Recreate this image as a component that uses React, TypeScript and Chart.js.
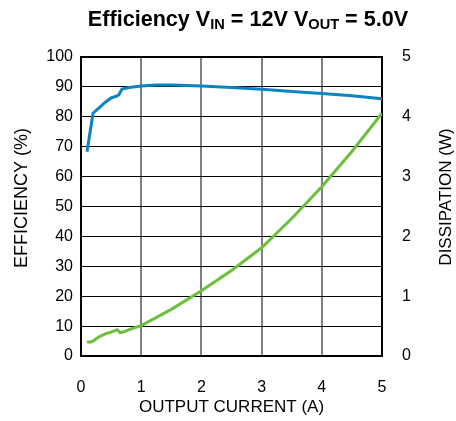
import React, { useEffect, useRef } from "react";
import { Chart, registerables } from "chart.js";

Chart.register(...registerables);

const effCurrent = [0.1, 0.2, 0.3, 0.4, 0.5, 0.6, 0.63, 0.68, 0.8, 1.0, 1.25, 1.5, 2.0, 2.5, 3.0, 3.5, 4.0, 4.5, 5.0];
const efficiency = [68.3, 81.2, 83.0, 84.8, 86.3, 87.0, 87.4, 89.3, 89.8, 90.3, 90.6, 90.6, 90.3, 89.8, 89.2, 88.5, 87.8, 87.0, 86.0];

const dissCurrent = [0.1, 0.15, 0.2, 0.3, 0.4, 0.5, 0.6, 0.65, 0.7, 0.8, 1.0, 1.5, 2.0, 2.5, 3.0, 3.5, 4.0, 4.5, 5.0];
const dissipation = [0.24, 0.23, 0.25, 0.32, 0.37, 0.4, 0.44, 0.39, 0.4, 0.44, 0.51, 0.78, 1.09, 1.43, 1.81, 2.3, 2.83, 3.42, 4.06];

const xTicks = [0, 1, 2, 3, 4, 5];
const effTicks = [0, 10, 20, 30, 40, 50, 60, 70, 80, 90, 100];
const dissTicks = [0, 1, 2, 3, 4, 5];

const titleParts: { text: string; sub: boolean }[] = [
  { text: "Efficiency V", sub: false },
  { text: "IN", sub: true },
  { text: " = 12V V", sub: false },
  { text: "OUT", sub: true },
  { text: " = 5.0V", sub: false },
];
const leftTitle = "EFFICIENCY (%)";
const rightTitle = "DISSIPATION (W)";
const xTitle = "OUTPUT CURRENT (A)";

const FONT = "'Liberation Sans', Arial, Helvetica, sans-serif";

const textPlugin = {
  id: "customText",
  afterDraw(chart: any) {
    const ctx = chart.ctx;
    ctx.save();
    ctx.fillStyle = "#000";
    ctx.textBaseline = "alphabetic";
    ctx.textAlign = "left";
    const mainFont = `bold 21.6px ${FONT}`;
    const subFont = `bold 14.6px ${FONT}`;
    let total = 0;
    for (const p of titleParts) {
      ctx.font = p.sub ? subFont : mainFont;
      total += ctx.measureText(p.text).width;
    }
    let x = 248 - total / 2;
    for (const p of titleParts) {
      ctx.font = p.sub ? subFont : mainFont;
      ctx.fillText(p.text, x, p.sub ? 28.5 : 25.5);
      x += ctx.measureText(p.text).width;
    }
    ctx.restore();

    const vTitle = (text: string, cx: number, cy: number, size: number) => {
      ctx.save();
      ctx.translate(cx, cy);
      ctx.rotate(-Math.PI / 2);
      ctx.font = `${size}px ${FONT}`;
      ctx.fillStyle = "#000";
      ctx.textAlign = "center";
      ctx.textBaseline = "middle";
      ctx.fillText(text, 0, 0);
      ctx.restore();
    };
    vTitle(leftTitle, 21.7, 198, 18);
    vTitle(rightTitle, 446.7, 197, 17);
  },
};

export default function App() {
  const ref = useRef<HTMLCanvasElement>(null);
  useEffect(() => {
    document.body.style.margin = "0";
    const canvas = ref.current!;
    const chart = new Chart(canvas, {
      type: "line",
      data: {
        datasets: [
          {
            label: "Efficiency",
            data: effCurrent.map((x, i) => ({ x, y: efficiency[i] })),
            borderColor: "#0a84c1",
            borderWidth: 3,
            pointRadius: 0,
            tension: 0,
            yAxisID: "y",
          },
          {
            label: "Dissipation",
            data: dissCurrent.map((x, i) => ({ x, y: dissipation[i] })),
            borderColor: "#6cbf3b",
            borderWidth: 3,
            pointRadius: 0,
            tension: 0,
            yAxisID: "y1",
          },
        ],
      },
      options: {
        animation: false,
        responsive: false,
        layout: { padding: { top: 57, left: 0, right: 0, bottom: 0 } },
        plugins: { legend: { display: false }, tooltip: { enabled: false }, title: { display: false } },
        scales: {
          x: {
            type: "linear",
            min: 0,
            max: 5,
            afterBuildTicks: (s: any) => { s.ticks = xTicks.map((v) => ({ value: v })); },
            afterFit: (s: any) => { s.height = 65; },
            ticks: { color: "#000", font: { family: FONT, size: 16 }, padding: 22, maxRotation: 0 },
            grid: { color: "#808080", lineWidth: 2, drawTicks: false },
            border: { color: "#000", width: 2 },
            title: { display: true, text: xTitle, color: "#000", font: { family: FONT, size: 17 }, padding: { top: 0, bottom: 3 } },
          },
          y: {
            type: "linear",
            position: "left",
            min: 0,
            max: 100,
            afterBuildTicks: (s: any) => { s.ticks = effTicks.map((v) => ({ value: v })); },
            afterFit: (s: any) => { s.width = 81; },
            ticks: { color: "#000", font: { family: FONT, size: 16 }, padding: 8 },
            grid: { color: "#000", lineWidth: (c: any) => (c.tick && c.tick.value === 100 ? 2 : 1), drawTicks: false },
            border: { color: "#000", width: 2 },
            title: { display: false },
          },
          y1: {
            type: "linear",
            position: "right",
            min: 0,
            max: 5,
            afterBuildTicks: (s: any) => { s.ticks = dissTicks.map((v) => ({ value: v })); },
            afterFit: (s: any) => { s.width = 74; },
            ticks: { color: "#000", font: { family: FONT, size: 16 }, padding: 20 },
            grid: { display: false, drawTicks: false },
            border: { color: "#000", width: 2 },
            title: { display: false },
          },
        },
      },
      plugins: [textPlugin],
    } as any);
    return () => chart.destroy();
  }, []);
  return <canvas ref={ref} width={456} height={421} style={{ display: "block" }} />;
}
